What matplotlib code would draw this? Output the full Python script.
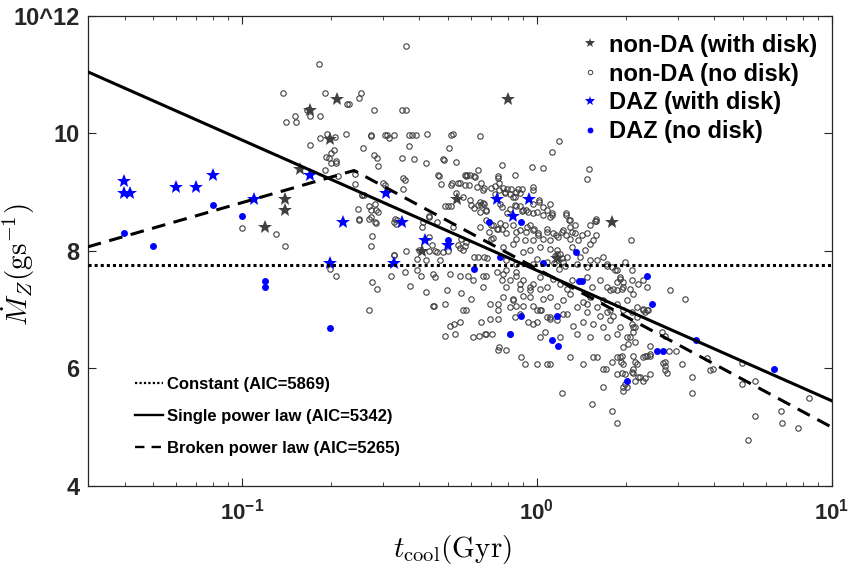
import matplotlib
matplotlib.use('Agg')
import matplotlib.pyplot as plt
from matplotlib.lines import Line2D
import numpy as np

plt.rcParams['font.family'] = ['Liberation Sans', 'DejaVu Sans']
plt.rcParams['mathtext.fontset'] = 'custom'
plt.rcParams['mathtext.bf'] = 'Liberation Sans:bold'
plt.rcParams['mathtext.rm'] = 'Liberation Sans:bold'

# (t_cool [Gyr], Mdot_Z [log g/s])
non_da_nodisk = [
    (0.0998, 8.39), (0.130, 8.29), (0.1396, 8.08), (0.1995, 7.69), (0.209, 7.58), (0.277, 7.47),
    (0.286, 7.35), (0.269, 6.99), (0.276, 8.26), (0.273, 8.08), (0.248, 8.72), (0.249, 8.53),
    (0.270, 8.77), (0.274, 8.70), (0.285, 8.70), (0.282, 8.80), (0.290, 8.66), (0.273, 8.58),
    (0.282, 8.49), (0.242, 9.14), (0.256, 8.95), (0.241, 9.31), (0.192, 9.37), (0.211, 9.27),
    (0.193, 9.60), (0.197, 9.58), (0.200, 9.66), (0.201, 9.49), (0.208, 9.53), (0.208, 9.50),
    (0.206, 9.72), (0.280, 9.63), (0.287, 9.58), (0.290, 9.44),
    (0.359, 11.49), (0.182, 11.19), (0.1375, 10.69), (0.191, 10.69), (0.254, 10.69), (0.249, 10.60),
    (0.227, 10.50), (0.230, 10.50), (0.166, 10.40), (0.170, 10.30), (0.184, 10.30), (0.151, 10.30),
    (0.1416, 10.19), (0.1525, 10.19), (0.280, 10.40), (0.348, 10.40), (0.361, 10.40), (0.194, 9.99),
    (0.170, 9.80), (0.184, 9.93), (0.207, 9.94), (0.225, 9.99), (0.273, 9.96), (0.275, 9.98),
    (0.305, 9.98), (0.311, 9.98), (0.328, 9.98), (0.315, 9.92), (0.369, 9.98), (0.377, 9.98),
    (0.388, 9.98), (0.424, 9.99), (0.512, 9.98), (0.520, 9.99), (0.641, 9.96), (0.258, 9.76),
    (0.370, 9.78), (0.502, 9.75), (0.349, 9.59), (0.384, 9.57), (0.421, 9.49), (0.481, 9.57),
    (0.486, 9.55), (0.531, 9.51), (0.353, 9.24), (0.356, 9.21), (0.351, 9.06), (0.302, 9.15),
    (0.306, 9.13), (0.464, 9.30), (0.467, 9.27), (0.475, 9.14), (0.51, 9.12), (0.54, 9.16),
    (0.55, 9.16), (0.57, 9.12), (0.59, 9.12), (0.58, 9.30), (0.595, 9.30), (0.61, 9.27),
    (0.63, 9.37), (0.50, 8.77), (0.51, 8.77), (0.49, 8.76), (0.60, 8.79), (0.61, 8.74),
    (0.63, 8.79), (0.645, 8.79), (0.66, 8.80), (0.255, 8.96), (0.259, 8.96), (0.25, 8.54),
    (0.27, 8.54), (0.284, 8.48), (0.33, 8.55), (0.335, 8.52), (0.332, 8.46), (0.327, 8.49),
    (0.43, 8.57), (0.46, 8.50), (0.408, 8.41), (0.43, 8.24), (0.44, 8.10), (0.329, 7.94),
    (0.359, 8.00), (0.393, 7.86), (0.42, 7.85), (0.43, 8.00), (0.45, 8.00), (0.46, 7.99),
    (0.47, 7.85), (0.48, 7.99), (0.50, 8.00), (0.54, 8.10), (0.55, 8.05), (0.56, 8.01),
    (0.57, 8.08), (0.575, 8.15), (0.555, 8.20), (0.61, 7.90), (0.63, 7.90), (0.66, 7.89),
    (0.68, 7.88), (0.70, 8.20), (0.71, 8.22), (0.69, 8.33), (0.71, 8.44), (0.736, 9.24),
    (0.741, 9.28), (0.763, 9.47), (0.84, 9.29), (0.96, 9.43), (1.053, 9.41),
    (1.188, 9.88), (1.122, 9.69), (1.505, 9.39), (1.475, 9.23), (0.745, 9.16), (0.745, 9.03),
    (0.66, 9.07), (0.70, 9.07), (0.72, 9.11), (0.77, 9.08), (0.79, 9.05), (0.82, 9.05),
    (0.86, 9.05), (0.89, 9.06), (0.97, 9.09), (0.97, 9.03), (0.72, 8.97), (0.78, 8.98),
    (0.83, 8.92), (0.88, 8.98), (0.67, 8.70), (0.64, 8.66), (0.67, 8.68), (0.76, 8.75),
    (0.81, 8.71), (0.85, 8.77), (0.88, 8.76), (0.89, 8.68), (0.92, 8.70), (0.97, 8.80),
    (1.00, 8.66), (1.02, 8.83), (1.05, 8.75), (1.08, 8.69), (1.13, 8.62), (1.26, 8.65),
    (1.30, 8.52), (1.35, 8.45), (1.52, 8.45), (1.59, 8.55), (0.43, 8.60), (0.41, 8.49),
    (0.52, 8.41), (0.64, 8.40), (0.67, 8.53), (0.70, 8.45), (0.73, 8.37), (0.74, 8.37),
    (0.76, 8.37), (0.78, 8.45), (0.85, 8.33), (0.88, 8.35), (0.92, 8.33), (0.95, 8.44),
    (0.98, 8.38), (1.01, 8.27), (1.08, 8.33), (1.16, 8.27), (1.22, 8.33), (1.26, 8.27),
    (1.32, 8.33), (1.42, 8.27), (1.59, 8.27),
    (0.78, 9.01), (0.81, 8.97), (0.85, 9.01), (0.84, 8.92), (1.02, 8.86), (1.11, 8.80),
    (0.75, 8.80), (0.842, 8.78), (0.90, 8.69), (0.935, 8.66), (0.97, 8.64), (1.05, 8.61),
    (1.11, 8.58), (1.13, 8.64), (1.26, 8.61), (1.29, 8.52), (1.59, 8.51), (0.79, 8.64),
    (0.749, 8.47), (0.83, 8.44), (0.923, 8.41), (0.971, 8.35), (1.01, 8.30), (1.079, 8.38),
    (1.136, 8.30), (1.181, 8.24), (1.228, 8.35), (1.294, 8.41), (1.345, 8.30), (1.381, 8.18),
    (1.474, 8.30), (0.789, 8.30), (0.853, 8.21), (0.911, 8.18), (0.971, 8.18), (1.05, 8.21),
    (1.107, 8.18), (1.294, 8.21), (1.513, 8.12), (1.553, 8.18), (2.08, 8.19),
    (0.768, 8.07), (0.831, 8.12), (0.899, 7.98), (0.947, 8.01), (1.024, 8.07), (1.107, 8.04),
    (1.166, 7.95), (1.261, 7.90), (1.311, 8.07), (1.399, 7.90), (1.455, 8.01), (1.513, 7.84),
    (1.594, 7.84), (1.679, 7.90), (1.724, 7.78), (1.839, 7.67), (1.989, 7.81), (2.096, 7.67),
    (0.789, 7.84), (0.853, 7.78), (0.998, 7.87), (0.971, 7.78), (1.079, 7.81), (1.228, 7.81),
    (1.364, 7.78), (1.474, 7.73), (1.15, 7.92), (1.18, 7.85), (1.20, 7.95), (1.22, 7.88),
    (1.14, 7.80), (1.25, 7.75), (1.17, 8.02), (1.19, 7.70),
    (0.768, 7.61), (0.810, 7.50), (0.853, 7.58), (0.899, 7.50), (0.971, 7.44), (1.024, 7.56),
    (1.079, 7.38), (1.136, 7.53), (1.197, 7.44), (1.261, 7.36), (1.311, 7.50), (1.474, 7.56),
    (1.533, 7.38), (1.636, 7.50), (1.724, 7.38), (1.77, 7.33), (1.864, 7.47), (1.963, 7.38),
    (2.096, 7.50), (2.207, 7.44), (2.295, 7.50), (2.356, 7.38), (0.789, 7.38), (0.876, 7.36),
    (0.947, 7.33), (1.024, 7.36),
    (0.768, 7.21), (0.831, 7.16), (0.899, 7.24), (0.971, 7.07), (1.05, 7.19), (1.107, 7.21),
    (1.166, 7.07), (1.228, 7.16), (1.294, 7.27), (1.364, 7.04), (1.436, 7.13), (1.513, 7.21),
    (1.594, 7.04), (1.679, 7.16), (1.77, 6.99), (1.864, 7.10), (2.016, 7.16), (2.18, 7.04),
    (2.295, 6.99), (0.810, 7.04), (0.876, 6.93), (1.024, 6.99), (1.228, 6.93), (1.474, 6.96),
    (1.636, 6.90), (1.815, 6.90),
    (0.998, 6.79), (1.107, 6.85), (1.261, 6.93), (1.328, 6.73), (1.436, 6.79), (1.553, 6.76),
    (1.679, 6.70), (1.77, 6.82), (1.913, 6.70), (2.122, 6.70), (1.024, 6.53), (1.197, 6.53),
    (1.364, 6.59), (1.513, 6.53), (1.724, 6.53), (1.864, 6.59), (2.016, 6.53), (0.971, 6.76),
    (1.079, 6.87),
    (0.328, 7.93), (0.40, 8.01), (0.321, 7.58), (0.356, 7.64), (0.391, 7.67), (0.406, 7.58),
    (0.445, 7.61), (0.451, 7.56), (0.507, 7.61), (0.548, 7.58), (0.585, 7.58), (0.608, 7.50),
    (0.658, 7.58), (0.675, 7.58), (0.730, 7.64), (0.789, 7.67), (0.853, 7.64), (0.371, 7.41),
    (0.422, 7.30), (0.494, 7.33), (0.555, 7.28), (0.600, 7.19), (0.658, 7.38), (0.759, 7.50),
    (0.876, 7.44), (0.947, 7.38), (0.445, 7.07), (0.490, 7.09), (0.562, 6.99), (0.577, 6.99),
    (0.693, 7.10), (0.739, 7.10), (0.739, 6.99), (0.831, 7.19), (0.853, 7.07), (0.899, 7.07),
    (0.947, 7.21), (0.998, 6.99), (1.037, 6.99), (0.507, 6.73), (0.523, 6.76), (0.548, 6.79),
    (0.649, 6.79), (0.666, 6.59), (0.693, 6.85), (0.739, 6.85), (0.810, 6.59), (0.842, 6.87),
    (0.934, 6.79), (1.064, 6.62), (1.107, 6.87), (1.166, 6.82), (0.487, 6.56), (0.527, 6.59),
    (0.608, 6.53), (0.637, 6.56), (0.675, 6.59), (0.702, 6.59), (0.745, 6.37), (0.739, 6.31),
    (0.789, 6.32), (0.887, 6.19), (0.911, 6.08), (0.998, 6.08), (1.079, 6.08), (1.107, 6.08),
    (1.213, 5.58), (1.533, 5.39), (1.793, 5.28), (1.864, 5.08), (1.679, 5.68), (1.963, 5.68),
    (1.989, 5.74), (2.122, 5.92), (2.207, 5.85), (2.325, 5.83), (1.30, 6.19), (1.436, 6.08),
    (1.553, 6.19), (1.594, 6.19), (1.679, 5.99), (1.715, 5.99), (1.793, 6.11), (1.864, 6.19),
    (1.923, 6.11), (0.447, 7.06),
    (2.83, 7.34), (3.18, 7.19), (2.387, 6.99), (2.325, 6.96), (2.122, 7.27), (1.913, 7.53),
    (1.94, 7.36), (2.65, 6.62), (2.72, 6.55), (2.42, 6.39), (2.42, 6.22), (2.325, 6.22),
    (2.295, 6.19), (2.81, 6.29), (2.96, 6.29), (2.72, 6.11), (2.76, 5.92), (3.11, 6.07),
    (3.77, 6.18), (3.86, 5.97), (3.97, 5.99), (3.35, 5.85), (3.35, 5.58), (4.97, 5.73),
    (4.95, 6.09), (5.51, 5.78), (5.50, 5.19), (5.19, 4.78), (6.71, 5.28), (6.80, 5.08),
    (7.67, 4.99), (8.35, 5.49), (2.096, 5.94), (2.237, 5.86), (2.42, 5.90), (2.15, 6.11),
    (2.19, 6.08), (2.12, 6.22), (1.96, 6.08), (1.91, 6.19), (1.94, 6.22), (2.15, 6.70),
    (2.12, 6.62), (2.07, 6.53), (2.15, 6.45), (2.04, 6.42), (1.96, 6.36), (1.864, 5.90),
    (1.94, 5.92),
    (1.58, 8.51), (1.724, 7.75), (1.793, 7.72), (1.864, 7.67), (1.913, 7.56), (1.963, 7.47),
    (2.069, 7.36), (1.815, 7.36), (1.864, 7.33), (1.474, 7.10), (1.724, 6.96), (1.963, 6.99),
    (2.096, 6.96), (2.096, 6.76), (2.18, 6.87), (2.295, 7.02), (2.356, 6.99), (2.356, 6.22),
    (2.42, 6.25), (2.68, 6.09), (2.71, 6.05), (2.73, 5.97), (2.122, 5.99), (1.989, 5.91),
    (2.15, 5.79), (2.295, 5.79), (2.016, 5.68), (1.963, 5.61), (0.514, 9.15), (0.57, 9.29),
    (0.577, 9.27), (0.616, 9.26), (0.627, 9.09), (0.649, 9.15), (0.658, 9.03), (0.533, 8.98),
    (0.562, 8.92), (0.594, 8.86), (0.64, 8.83), (0.658, 8.81),
]

non_da_disk_t = [0.210, 0.799, 0.170, 0.1995, 0.157, 0.1396, 0.1396, 0.120, 0.538, 0.408, 1.797, 1.17]
non_da_disk_mz = [10.58, 10.58, 10.40, 9.90, 9.39, 8.89, 8.69, 8.40, 8.89, 8.00, 8.49, 7.88]

daz_disk_t = [0.0398, 0.0398, 0.0418, 0.0599, 0.0697, 0.0798, 0.1096, 0.170, 0.220,
              0.1995, 0.309, 0.349, 0.419, 0.500, 0.327, 0.730, 0.832, 0.942]
daz_disk_mz = [9.19, 8.99, 8.99, 9.09, 9.09, 9.29, 8.89, 9.29, 8.49,
               7.80, 8.99, 8.49, 8.19, 8.10, 7.80, 8.89, 8.60, 8.89]

daz_nodisk_t = [0.0398, 0.0499, 0.0798, 0.0998, 0.120, 0.120, 0.1995, 0.50, 0.689, 0.887,
                0.749, 0.611, 1.05, 1.356, 1.389, 1.418, 2.37, 2.455, 0.887, 1.166,
                0.810, 1.127, 1.181, 2.548, 2.671, 2.015, 3.46, 6.37]
daz_nodisk_mz = [8.30, 8.08, 8.79, 8.59, 7.49, 7.39, 6.69, 8.19, 8.49, 8.49,
                 7.89, 7.69, 7.79, 7.99, 7.49, 7.49, 7.58, 7.09, 6.89, 6.89,
                 6.58, 6.49, 6.39, 6.29, 6.29, 5.79, 6.49, 5.99]

# fitted models
const_t = [0.03, 10.0]
const_mz = [7.76, 7.76]
single_t = [0.03, 10.0]
single_mz = [11.05, 5.45]
broken_t = [0.03, 0.24, 10.0]
broken_mz = [8.07, 9.37, 5.00]

nd_t, nd_mz = np.array(non_da_nodisk).T

fig = plt.figure(figsize=(8.55, 5.71), dpi=100)
ax = fig.add_axes([0.1026, 0.1489, 0.8702, 0.8231])

gray = '#404040'
ax.plot(nd_t, nd_mz, 'o', ms=3.9, mfc='none', mec=gray, mew=0.8, zorder=2)
ax.plot(non_da_disk_t, non_da_disk_mz, '*', ms=10, color=gray, mew=0, zorder=3)
ax.plot(daz_disk_t, daz_disk_mz, '*', ms=10, color='#0000ff', mew=0, zorder=3)
ax.plot(daz_nodisk_t, daz_nodisk_mz, 'o', ms=5, color='#0000ff', mew=0, zorder=3)

ax.plot(const_t, const_mz, color='k', lw=2.2, linestyle=(0, (1, 1)), zorder=4)
ax.plot(single_t, single_mz, color='k', lw=2.2, zorder=4)
ax.plot(broken_t, broken_mz, color='k', lw=2.2, linestyle=(0, (4.5, 2.8)), zorder=4)

ax.set_xscale('log')
ax.set_xlim(0.03, 10)
ax.set_ylim(4, 12)
ax.set_yticks([4, 6, 8, 10, 12])
ax.set_yticklabels(['4', '6', '8', '10', '10^12'], fontsize=17, fontweight='bold')
ax.set_xticks([0.1, 1, 10])
ax.set_xticklabels([r'$\mathbf{10^{-1}}$', r'$\mathbf{10^{0}}$', r'$\mathbf{10^{1}}$'],
                   fontsize=16)
ax.tick_params(which='both', direction='in', top=True, right=True, colors='#262626')
ax.tick_params(which='major', length=6, width=0.8, pad=6)
ax.tick_params(axis='x', which='major', pad=9)
ax.tick_params(which='minor', length=3, width=0.6)
ax.tick_params(axis='y', which='minor', left=False, right=False)
for s in ax.spines.values():
    s.set_color('#262626')
    s.set_linewidth(0.9)

ax.set_xlabel(r'$t_{\rm cool}({\rm Gyr})$', fontsize=21, math_fontfamily='cm')
ax.xaxis.set_label_coords(0.49, -0.1)
ax.set_ylabel(r'$\dot{M}_Z(\mathrm{gs}^{-1})$', fontsize=21, math_fontfamily='cm')
ax.yaxis.set_label_coords(-0.068, 0.47)

h1 = [Line2D([], [], ls='none', marker='*', ms=7, color=gray, mew=0),
      Line2D([], [], ls='none', marker='o', ms=3.2, mfc='none', mec=gray, mew=0.7),
      Line2D([], [], ls='none', marker='*', ms=7, color='#0000ff', mew=0),
      Line2D([], [], ls='none', marker='o', ms=4.2, color='#0000ff', mew=0)]
leg1 = ax.legend(h1, ['non-DA (with disk)', 'non-DA (no disk)', 'DAZ (with disk)', 'DAZ (no disk)'],
                 loc='upper left', bbox_to_anchor=(0.6795, 0.941), bbox_transform=fig.transFigure,
                 frameon=False, borderpad=0, borderaxespad=0, handlelength=0.8,
                 handletextpad=0.4, labelspacing=0.25, prop={'size': 17, 'weight': 'bold'})
ax.add_artist(leg1)

h2 = [Line2D([], [], color='k', lw=1.6, ls=(0, (1, 1))),
      Line2D([], [], color='k', lw=1.7),
      Line2D([], [], color='k', lw=1.7, ls=(0, (4, 3)))]
ax.legend(h2, ['Constant (AIC=5869)', 'Single power law (AIC=5342)', 'Broken power law (AIC=5265)'],
          loc='upper left', bbox_to_anchor=(0.158, 0.3398), bbox_transform=fig.transFigure,
          frameon=False, borderpad=0, borderaxespad=0, handlelength=1.68,
          handletextpad=0.25, labelspacing=1.02, prop={'size': 12, 'weight': 'bold'})

fig.savefig('out.png', dpi=100)
